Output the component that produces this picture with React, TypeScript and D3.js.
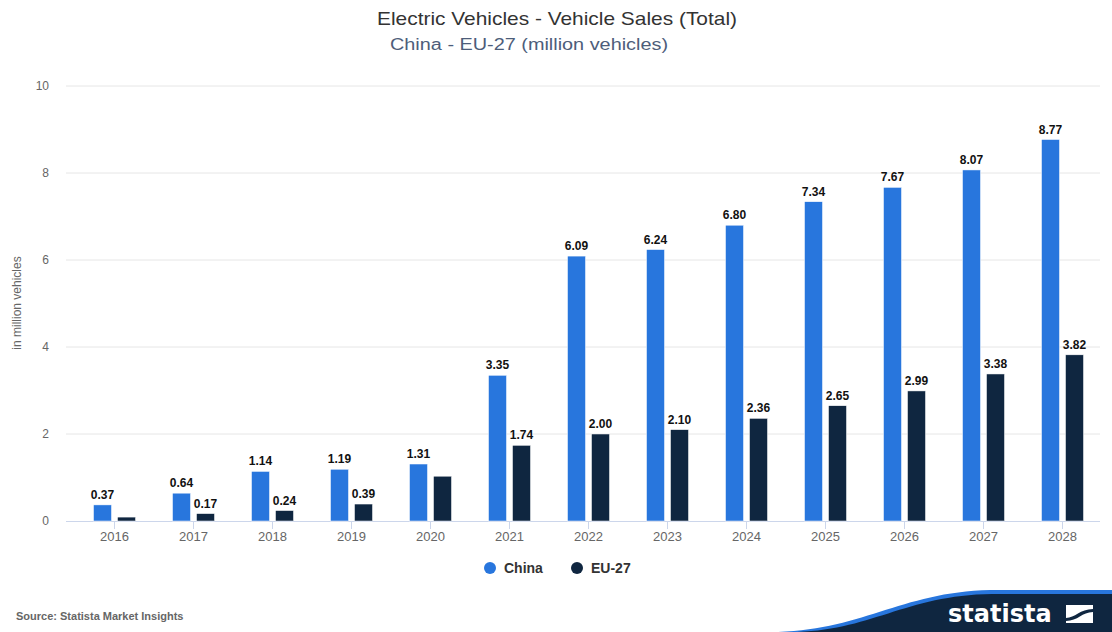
import React from "react";
import * as d3 from "d3";

const years = ["2016","2017","2018","2019","2020","2021","2022","2023","2024","2025","2026","2027","2028"];
const china = [0.37,0.64,1.14,1.19,1.31,3.35,6.09,6.24,6.80,7.34,7.67,8.07,8.77];
const eu27 = [0.09,0.17,0.24,0.39,1.03,1.74,2.00,2.10,2.36,2.65,2.99,3.38,3.82];
const euLabels = ["","0.17","0.24","0.39","","1.74","2.00","2.10","2.36","2.65","2.99","3.38","3.82"];
const yTicks = [0,2,4,6,8,10];

const W = 1112, H = 632;
const FONT = "'Liberation Sans', Arial, Helvetica, sans-serif";
const CHINA_C = "#2876dd";
const EU_C = "#0f2640";

export default function App() {
  const x = d3.scaleBand().domain(years).range([75, 1102]);
  const y = d3.scaleLinear().domain([0, 10]).range([521, 86]);
  const bw = 18;
  const gap = 3;
  return (
    <svg width={W} height={H} style={{ position: "absolute", left: 0, top: 0, background: "#fff" }} fontFamily={FONT}>
      <rect width={W} height={H} fill="#fff" />
      <text x={377} y={25} fontSize={19} fill="#333" textLength={360} lengthAdjust="spacingAndGlyphs">Electric Vehicles - Vehicle Sales (Total)</text>
      <text x={390} y={50} fontSize={16} fill="#4d5d7a" textLength={278} lengthAdjust="spacingAndGlyphs">China - EU-27 (million vehicles)</text>
      {yTicks.map(t => (
        <g key={t}>
          {t !== 0 && <line x1={66} x2={1100} y1={y(t)} y2={y(t)} stroke="#e6e6e6" strokeWidth={1} />}
          <text x={49} y={y(t) + 4} textAnchor="end" fontSize={12} fill="#666">{t}</text>
        </g>
      ))}
      <text transform={`translate(21,303) rotate(-90)`} textAnchor="middle" fontSize={12} fill="#666">in million vehicles</text>
      <line x1={66} x2={1100} y1={y(0) + 0.5} y2={y(0) + 0.5} stroke="#ccd6eb" strokeWidth={1} />
      {years.map((yr, i) => {
        const c = (x(yr) as number) + x.bandwidth() / 2;
        return (
          <g key={yr}>
            <line x1={c} x2={c} y1={y(0)} y2={y(0) + 8} stroke="#ccd6eb" />
            <text x={c} y={y(0) + 20} textAnchor="middle" fontSize={13} fill="#666">{yr}</text>
            <rect x={c - gap - bw} y={y(china[i])} width={bw} height={y(0) - y(china[i])} fill={CHINA_C} stroke="#fff" strokeWidth={0.5} />
            <rect x={c + gap} y={y(eu27[i])} width={bw} height={y(0) - y(eu27[i])} fill={EU_C} stroke="#fff" strokeWidth={0.5} />
            <text x={c - gap - bw / 2} y={y(china[i]) - 6} textAnchor="middle" fontSize={12} fontWeight="bold" fill="#111">{china[i].toFixed(2)}</text>
            {euLabels[i] && <text x={c + gap + bw / 2} y={y(eu27[i]) - 6} textAnchor="middle" fontSize={12} fontWeight="bold" fill="#111">{euLabels[i]}</text>}
          </g>
        );
      })}
      <circle cx={490} cy={568} r={6} fill={CHINA_C} />
      <text x={504} y={573} fontSize={14} fontWeight="bold" fill="#333">China</text>
      <circle cx={577} cy={568} r={6} fill={EU_C} />
      <text x={591} y={573} fontSize={14} fontWeight="bold" fill="#333">EU-27</text>
      <text x={16} y={620} fontSize={11} fontWeight="bold" fill="#666">Source: Statista Market Insights</text>
      <path d="M770,632 C860,632 900,592 990,590 L1112,590 L1112,632 Z" fill="#2876dd" />
      <path d="M790,632 C870,632 905,595 992,594 L1112,594 L1112,632 Z" fill="#0f2640" />
      <text x={948} y={622} fontSize={24} fontWeight="bold" fill="#fff" fontFamily="'DejaVu Sans', sans-serif">statista</text>
      <rect x={1066} y={605} width={27} height={18} fill="#fff" />
      <path d="M1066,618 C1075,618 1080,609 1093,609 L1093,612 C1082,612 1078,621 1066,621 Z" fill="#0f2640" />
    </svg>
  );
}
